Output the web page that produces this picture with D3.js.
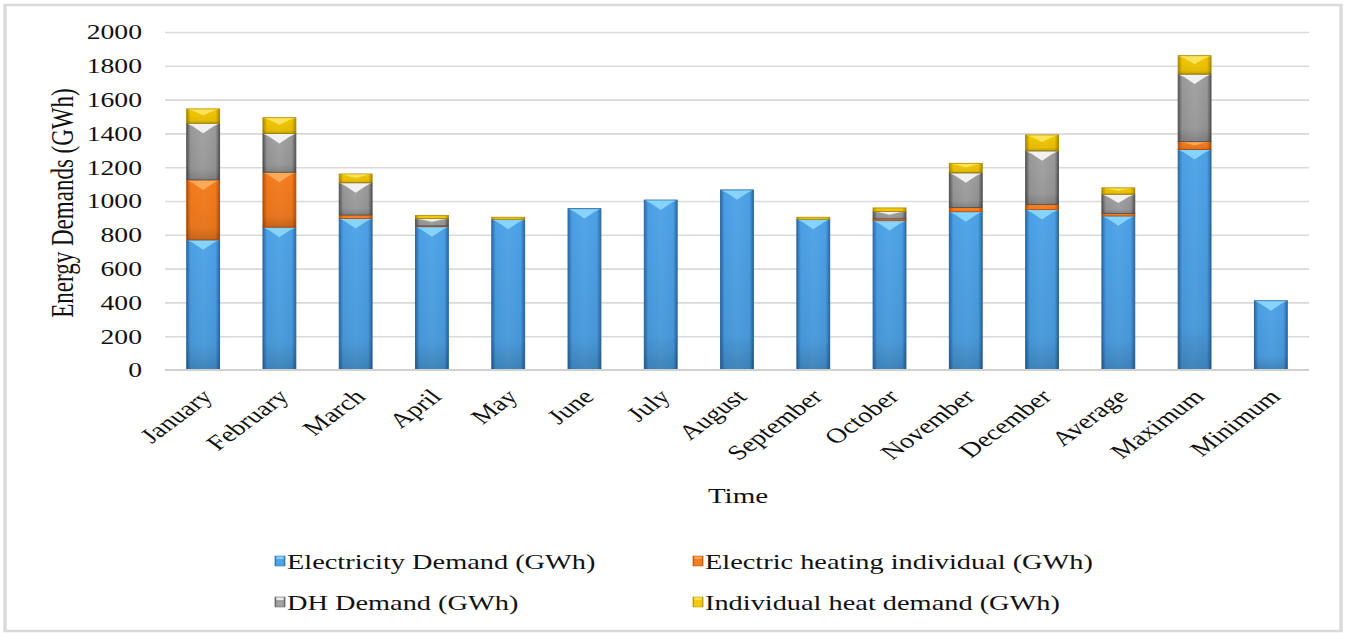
<!DOCTYPE html>
<html>
<head>
<meta charset="utf-8">
<script src="https://cdn.jsdelivr.net/npm/d3@7/dist/d3.min.js"></script>
<style>
  html, body { margin: 0; padding: 0; background: #ffffff; }
  svg { display: block; }
  text { font-family: "Liberation Serif", "Times New Roman", serif; fill: #111; }
</style>
</head>
<body>
<div id="chart"></div>
<script>
// ---- data ----
const categories = ["January", "February", "March", "April", "May", "June", "July",
  "August", "September", "October", "November", "December", "Average", "Maximum", "Minimum"];
const electricityDemand = [770, 845, 897, 848, 892, 955, 1006, 1066, 892, 884, 937, 950, 912, 1305, 410];
const electricHeatingIndividual = [355, 325, 20, 4, 0, 0, 0, 0, 0, 10, 24, 30, 14, 46, 0];
const dhDemand = [335, 230, 191, 45, 0, 0, 0, 0, 0, 45, 206, 317, 114, 400, 0];
const individualHeatDemand = [85, 93, 52, 17, 12, 0, 0, 0, 12, 20, 56, 94, 38, 109, 0];
const seriesNames = ["Electricity Demand (GWh)", "Electric heating individual (GWh)",
  "DH Demand (GWh)", "Individual heat demand (GWh)"];
const yTicks = [0, 200, 400, 600, 800, 1000, 1200, 1400, 1600, 1800, 2000];

// ---- look ----
const palette = [
  { base: "#4a9fe4", dark: "#2d6aa6", light: "#8fdcff" },
  { base: "#f47a1c", dark: "#b9520a", light: "#ffb060" },
  { base: "#999999", dark: "#585858", light: "#ffffff" },
  { base: "#f2c600", dark: "#b08c00", light: "#ffe866" }
];

// The drawing is laid out in a horizontally stretched coordinate space.
const SX = 1.35;
const WIDTH = 1349, HEIGHT = 633;
const W = WIDTH / SX;
const px = v => v / SX;   // screen x -> inner x

const svg = d3.select("#chart").append("svg")
  .attr("width", WIDTH).attr("height", HEIGHT)
  .attr("viewBox", `0 0 ${W} ${HEIGHT}`)
  .attr("preserveAspectRatio", "none");

const defs = svg.append("defs");
palette.forEach((c, i) => {
  const g = defs.append("linearGradient").attr("id", "hg" + i)
    .attr("x1", "0").attr("x2", "1").attr("y1", "0").attr("y2", "0");
  [[0, c.dark], [0.12, c.base], [0.5, d3.interpolateRgb(c.base, c.light)(0.12)], [0.88, c.base], [1, c.dark]]
    .forEach(([o, col]) => g.append("stop").attr("offset", o).attr("stop-color", col));
});
const vg = defs.append("linearGradient").attr("id", "shade")
  .attr("x1", "0").attr("x2", "0").attr("y1", "0").attr("y2", "1");
vg.append("stop").attr("offset", 0).attr("stop-color", "#000").attr("stop-opacity", 0);
vg.append("stop").attr("offset", 0.8).attr("stop-color", "#000").attr("stop-opacity", 0.06);
vg.append("stop").attr("offset", 1).attr("stop-color", "#000").attr("stop-opacity", 0.2);

// outer frame
svg.append("rect")
  .attr("x", px(5)).attr("y", 5).attr("width", px(1336)).attr("height", 626)
  .attr("fill", "#fff").attr("stroke", "#d9d9d9").attr("stroke-width", 2.5);

// ---- scales ----
const x = d3.scaleBand().domain(categories)
  .range([px(165), px(1309)]).paddingInner(0.57).paddingOuter(0.285);
const y = d3.scaleLinear().domain([0, 2000]).range([370, 32]);

// gridlines
svg.append("g")
  .attr("transform", `translate(${px(165)},0)`)
  .call(d3.axisLeft(y).tickValues(yTicks.filter(t => t > 0)).tickSize(-(px(1309) - px(165))).tickFormat(""))
  .call(g => g.select(".domain").remove())
  .call(g => g.selectAll("line").attr("stroke", "#d9d9d9").attr("stroke-width", 1.6));

// y axis labels
svg.append("g")
  .attr("transform", `translate(${px(142)},0)`)
  .call(d3.axisLeft(y).tickValues(yTicks).tickFormat(d3.format("d")).tickSize(0).tickPadding(0))
  .call(g => g.select(".domain").remove())
  .call(g => g.selectAll("text")
    .style("font-family", '"Liberation Serif", serif')
    .attr("font-size", 20.5).attr("fill", "#111").attr("dy", "0.34em"));

// stacked data
const table = categories.map((c, i) => ({
  category: c,
  e: electricityDemand[i], h: electricHeatingIndividual[i],
  d: dhDemand[i], ih: individualHeatDemand[i]
}));
const keys = ["e", "h", "d", "ih"];
const stacked = d3.stack().keys(keys)(table);

const bars = svg.append("g");
stacked.forEach((layer, si) => {
  const c = palette[si];
  const g = bars.append("g");
  layer.forEach(seg => {
    const v = seg[1] - seg[0];
    if (v <= 0) return;
    const x0 = x(seg.data.category), bw = x.bandwidth();
    const yTop = y(seg[1]), h = y(seg[0]) - y(seg[1]);
    g.append("rect").attr("x", x0).attr("y", yTop).attr("width", bw).attr("height", h)
      .attr("fill", `url(#hg${si})`).attr("stroke", c.dark).attr("stroke-width", 0.8);
    if (h > 6) {
      g.append("rect").attr("x", x0).attr("y", yTop).attr("width", bw).attr("height", h)
        .attr("fill", "url(#shade)");
      const d = Math.min(10, h * 0.45);
      g.append("path")
        .attr("d", `M${x0 + 0.6},${yTop + 0.6} L${x0 + bw - 0.6},${yTop + 0.6} L${x0 + bw * 0.82},${yTop + d * 0.3} L${x0 + bw / 2},${yTop + d} L${x0 + bw * 0.18},${yTop + d * 0.3} Z`)
        .attr("fill", c.light).attr("opacity", 0.85);
    }
  });
});

// baseline
svg.append("line")
  .attr("x1", px(165)).attr("x2", px(1309)).attr("y1", 370).attr("y2", 370)
  .attr("stroke", "#d0d0d0").attr("stroke-width", 2);

// x axis labels
svg.append("g").selectAll("text").data(categories).join("text")
  .attr("transform", d => `translate(${x(d) + x.bandwidth() / 2 + px(11)},398) rotate(-45)`)
  .attr("text-anchor", "end")
  .attr("font-size", 21)
  .text(d => d);

// axis titles
svg.append("text")
  .attr("transform", `translate(${px(73)},203) rotate(-90)`)
  .attr("text-anchor", "middle").attr("font-size", 23)
  .text("Energy Demands (GWh)");
svg.append("text")
  .attr("x", px(738)).attr("y", 503)
  .attr("text-anchor", "middle").attr("font-size", 21.5)
  .text("Time");

// legend
const legendPos = [[275, 569], [693, 569], [275, 610], [693, 610]];
const legend = svg.append("g");
seriesNames.forEach((name, i) => {
  const [lx, ly] = legendPos[i];
  const c = palette[i];
  legend.append("rect")
    .attr("x", px(lx)).attr("y", ly - 13).attr("width", px(10)).attr("height", 10)
    .attr("fill", `url(#hg${i})`).attr("stroke", c.dark).attr("stroke-width", 0.5);
  legend.append("rect")
    .attr("x", px(lx) + 1).attr("y", ly - 12.5).attr("width", px(10) - 2).attr("height", 2.5)
    .attr("fill", c.light).attr("opacity", 0.8);
  legend.append("text")
    .attr("x", px(lx + 12)).attr("y", ly)
    .attr("font-size", 21)
    .text(name);
});
</script>
</body>
</html>
